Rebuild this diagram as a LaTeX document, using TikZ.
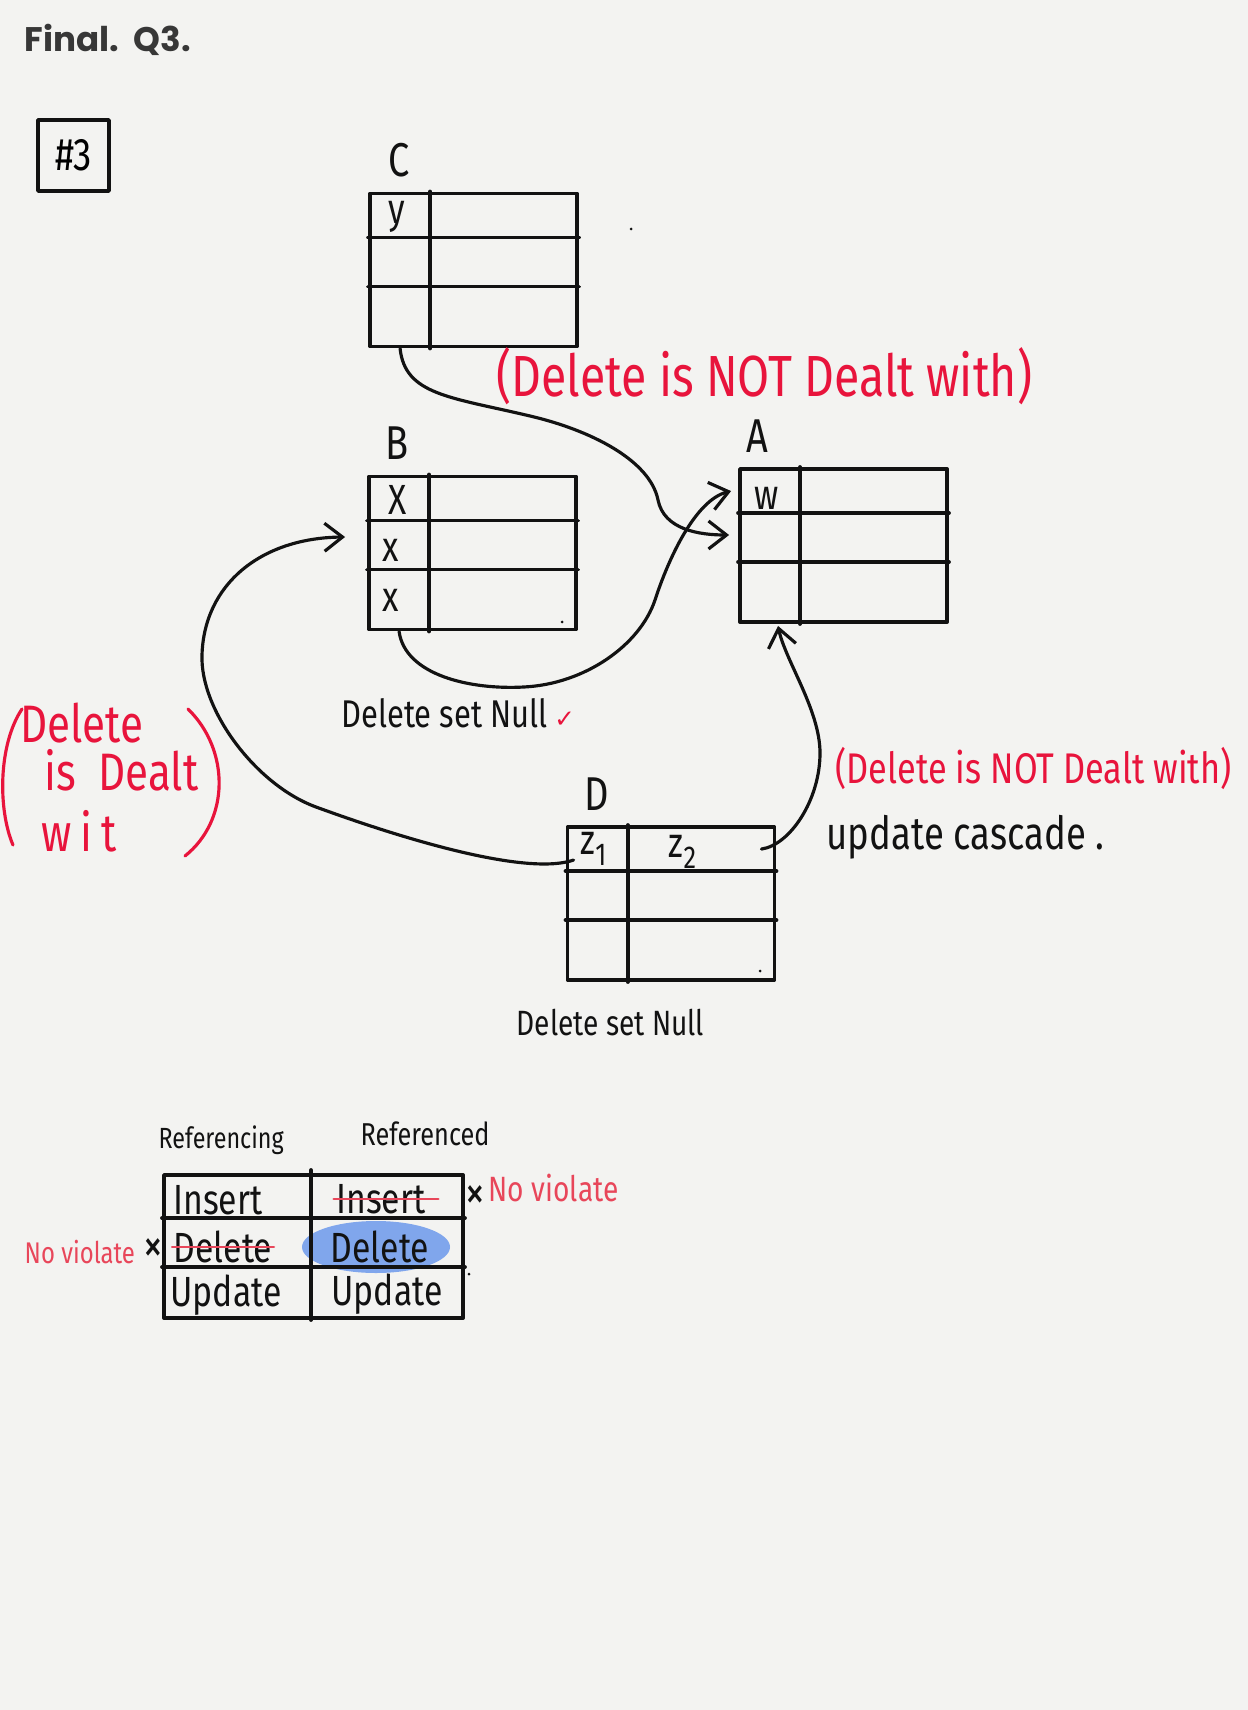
\documentclass[tikz,border=0pt]{standalone}
\usepackage{fontspec}
\usetikzlibrary{arrows.meta,positioning}
\setmainfont{Fira Sans}
\newfontfamily\hand[FakeStretch=0.8]{Fira Sans}
\newfontfamily\titlefont{Poppins}
\newfontfamily\symfont{DejaVu Sans}
\newcommand{\handat}[1]{\hand\fontsize{#1pt}{#1pt}\selectfont}
\definecolor{paper}{RGB}{243,243,241}
\definecolor{pen}{RGB}{18,18,18}
\definecolor{titlegray}{RGB}{55,55,55}
\definecolor{redpen}{RGB}{232,20,60}
\definecolor{pencil}{RGB}{232,70,90}
\definecolor{marker}{RGB}{128,166,236}

\begin{document}
\begin{tikzpicture}[line join=round, line cap=round,
	reltable/.style={draw=pen, line width=1.1pt, minimum width=2.07cm, minimum height=1.53cm, inner sep=0pt},
	rule/.style={draw=pen, line width=1.1pt},
	link/.style={draw=pen, line width=0.9pt, -{Straight Barb[length=1.8mm, width=2.8mm]}},
	tname/.style={text=pen, font=\handat{13.5}, inner sep=0pt},
	cell/.style={text=pen, font=\handat{12}, inner sep=0pt},
	note/.style={text=pen, inner sep=0pt, anchor=west},
	rednote/.style={text=redpen, inner sep=0pt, anchor=west},
	redline/.style={draw=redpen, line width=0.9pt},
	strike/.style={draw=pencil, line width=0.8pt}]
	\fill[paper] (0,0) rectangle (12.48,-17.10);
	\useasboundingbox (0,0) rectangle (12.48,-17.10);
	
	\node[anchor=base west, text=titlegray, inner sep=0pt, font=\titlefont\bfseries\fontsize{9.7pt}{11pt}\selectfont] (title) at (0.24,-0.52) {Final.\ \ Q3.};
	\node[draw=pen, line width=1pt, minimum size=0.71cm, inner sep=0pt, font=\handat{13}] (num) at (0.735,-1.555) {\#3};
	
	\node[reltable] (C) at (4.735,-2.70) {};
	\node[reltable] (B) at (4.725,-5.53) {};
	\node[reltable] (A) at (8.435,-5.455) {};
	\node[reltable] (D) at (6.71,-9.035) {};
	
	\foreach \t/\dx in {C/0.31, B/0.30, A/0.19, D/0.31} {
		\draw[rule] ([xshift=6.2mm]\t.north west) -- ([xshift=6.2mm]\t.south west);
		\draw[rule] ([yshift=-4.6mm]\t.north west) -- ([yshift=-4.6mm]\t.north east);
		\draw[rule] ([yshift=-9.5mm]\t.north west) -- ([yshift=-9.5mm]\t.north east);
		\node[tname] (lab\t) at ([shift={(\dx,0.31)}]\t.north west) {\t};
	}
	
	\node[cell] (cy) at ([shift={(0.29,-0.25)}]C.north west) {y};
	\node[cell] (bx1) at ([shift={(0.31,-0.25)}]B.north west) {X};
	\node[cell] (bx2) at ([shift={(0.24,-0.76)}]B.north west) {x};
	\node[cell] (bx3) at ([shift={(0.24,-1.26)}]B.north west) {x};
	\node[cell] (aw) at ([shift={(0.29,-0.31)}]A.north west) {w};
	\node[cell] (dz1) at ([shift={(0.28,-0.24)}]D.north west) {z\raisebox{-0.5ex}{\handat{9}1}};
	\node[cell] (dz2) at ([shift={(1.17,-0.27)}]D.north west) {z\raisebox{-0.5ex}{\handat{9}2}};
	
	\draw[link] ([xshift=3.2mm]C.south west) .. controls (4.05,-3.95) and (4.5,-3.97) .. (5.3,-4.16)
		.. controls (5.9,-4.3) and (6.5,-4.6) .. (6.58,-5.0)
		.. controls (6.64,-5.3) and (7.0,-5.35) .. ([shift={(-0.9mm,1.05mm)}]A.west);
	\draw[link] ([xshift=3.2mm]B.south west) .. controls (4.05,-6.75) and (4.7,-6.9) .. (5.24,-6.87)
		.. controls (5.85,-6.84) and (6.4,-6.45) .. (6.55,-6.0)
		.. controls (6.68,-5.6) and (6.95,-5.0) .. ([shift={(-0.7mm,-2.4mm)}]A.north west);
	\draw[link] ([shift={(0.8mm,-3.5mm)}]D.north west) .. controls (5.3,-8.75) and (4.2,-8.45) .. (3.16,-8.07)
		.. controls (2.56,-7.85) and (2.0,-7.1) .. (2.02,-6.55)
		.. controls (2.04,-5.85) and (2.6,-5.38) .. ([shift={(-2.2mm,1.6mm)}]B.west);
	\draw[link] ([shift={(-1.5mm,-2.4mm)}]D.north east) .. controls (7.9,-8.45) and (8.2,-8.0) .. (8.2,-7.53)
		.. controls (8.2,-7.1) and (7.85,-6.6) .. ([shift={(4mm,-0.2mm)}]A.south west);
	
	\node[rednote, font=\handat{16.5}] (noteCA) at (4.96,-3.76) {(Delete is NOT Dealt with)};
	\node[rednote, font=\handat{12.2}] (noteDA) at (8.35,-7.68) {(Delete is NOT Dealt with)};
	\node[note, font=\handat{13}] (cascade) at (8.26,-8.37) {update cascade .};
	\node[note, font=\handat{11}] (nullB) at (3.41,-7.13) {Delete set Null\,\textcolor{redpen}{\symfont\fontsize{7pt}{7pt}\selectfont ✓}};
	\node[note, font=\handat{10}] (nullD) at (5.16,-10.23) {Delete set Null};
	
	\node[rednote, font=\handat{15}] (dealtA) at (0.20,-7.23) {Delete};
	\node[rednote, font=\handat{15}] (dealtB) at (0.44,-7.70) {is\ \ Dealt};
	\node[rednote, font=\handat{15}] (dealtC) at (0.41,-8.31) {w\,i\,t};
	\draw[redline] (0.22,-7.09) .. controls (-0.02,-7.45) and (-0.02,-8.10) .. (0.13,-8.45);
	\draw[redline] (1.88,-7.09) .. controls (2.30,-7.50) and (2.30,-8.20) .. (1.85,-8.56);
	
	\fill[marker] (3.76,-12.47) ellipse [x radius=0.74, y radius=0.26];
	\node[reltable, minimum width=2.99cm, minimum height=1.43cm] (ops) at (3.135,-12.465) {};
	\draw[rule] ([xshift=14.9mm, yshift=0.3mm]ops.north west) -- ([xshift=14.9mm]ops.south west);
	\draw[rule] ([yshift=-4.5mm]ops.north west) -- ([yshift=-4.5mm]ops.north east);
	\draw[rule] ([yshift=-9.4mm]ops.north west) -- ([yshift=-9.4mm]ops.north east);
	
	\node[note, font=\handat{8.3}] (hdL) at (1.58,-11.40) {Referencing};
	\node[note, font=\handat{9}] (hdR) at (3.60,-11.34) {Referenced};
	\node[cell] (inL) at (2.18,-12.00) {Insert};
	\node[cell] (inR) at (3.81,-11.99) {Insert};
	\node[cell] (delL) at (2.23,-12.47) {Delete};
	\node[cell] (delR) at (3.80,-12.47) {Delete};
	\node[cell] (upL) at (2.26,-12.95) {Update};
	\node[cell] (upR) at (3.87,-12.94) {Update};
	\draw[strike] ([xshift=-0.2mm]inR.west) -- ([xshift=1.2mm]inR.east);
	\draw[strike] ([xshift=-0.1mm]delL.west) -- ([xshift=0.1mm]delL.east);
	
	\node[cell, font=\handat{14}] (xR) at (4.75,-11.98) {×};
	\node[cell, font=\handat{14}] (xL) at (1.53,-12.51) {×};
	\node[rednote, text=pencil, font=\handat{10}] (nvR) at (4.88,-11.88) {No violate};
	\node[rednote, text=pencil, font=\handat{8.5}] (nvL) at (0.24,-12.52) {No violate};
	
	\foreach \p in {(6.31,-2.29), (5.62,-6.22), (7.60,-9.71), (4.69,-12.74)}
		\fill[pen] \p circle (0.015);
\end{tikzpicture}
\end{document}
